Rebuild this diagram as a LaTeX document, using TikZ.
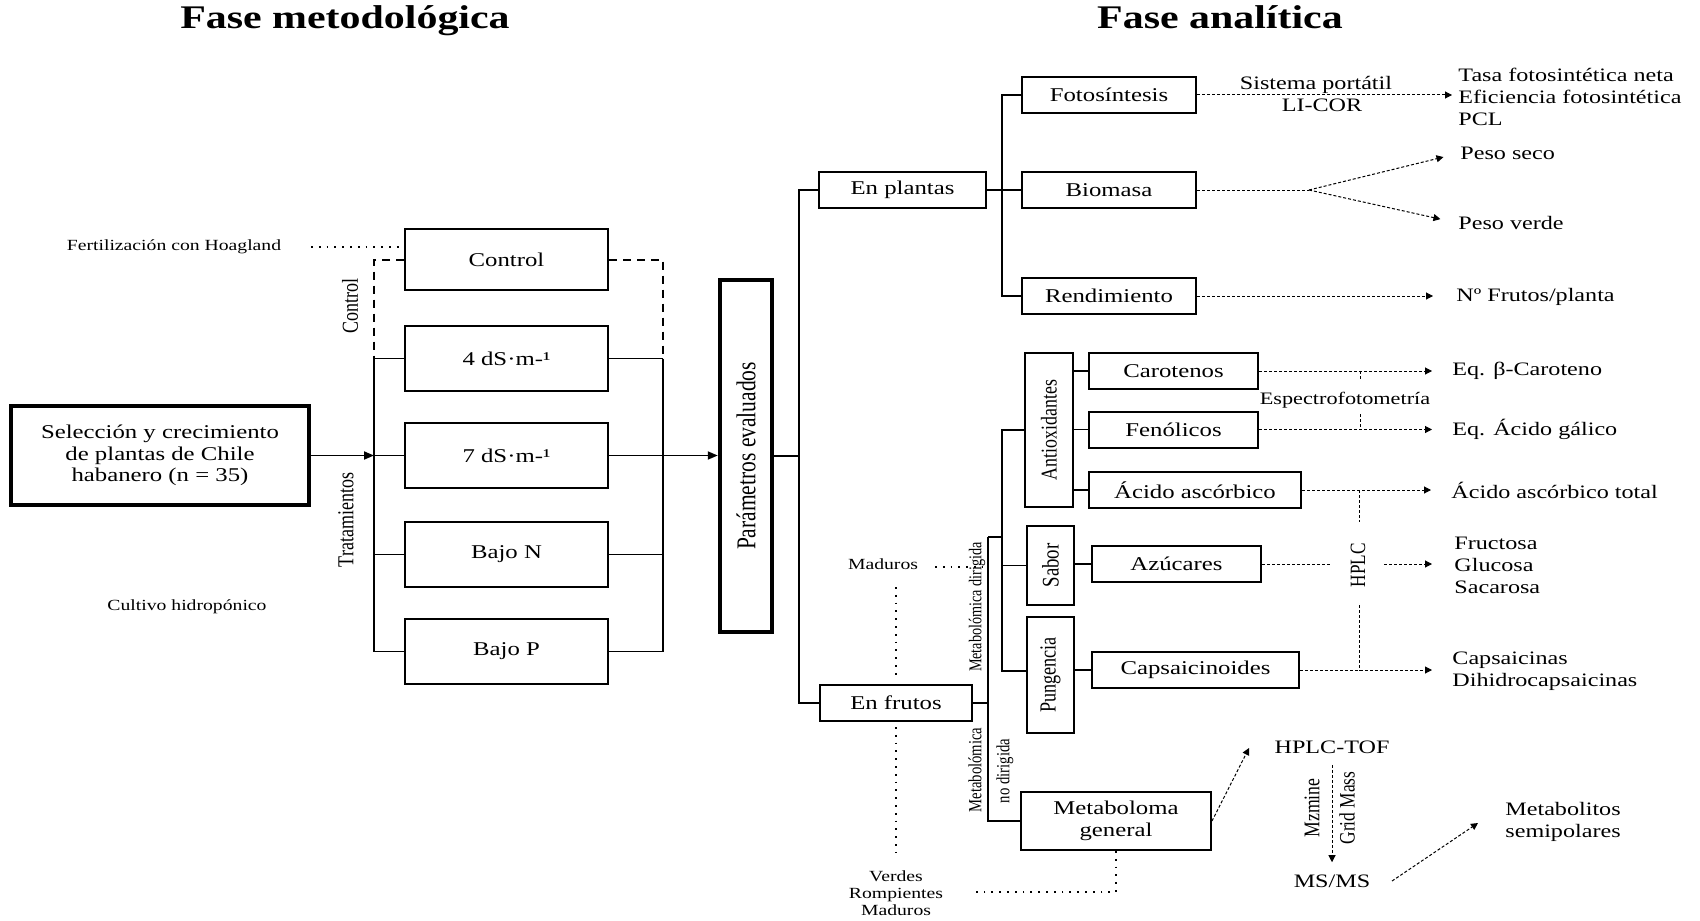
\documentclass[tikz,border=0pt]{standalone}
\usepackage{fontspec}
\setmainfont[FakeStretch=1.27]{Liberation Serif}
\newfontfamily\rotfont[FakeStretch=0.79]{Liberation Serif}
\usetikzlibrary{arrows.meta}
\begin{document}
\begin{tikzpicture}[x=0.5pt,y=-0.5pt,
  box/.style={draw, line width=1pt, inner sep=0pt, align=center, font=\fontsize{9.75}{10.75}\selectfont},
  tbox/.style={box, line width=2.25pt},
  tb/.style={box, minimum width=101.5pt, minimum height=32.5pt},
  rb/.style={box, minimum width=87pt, minimum height=18pt},
  ln/.style={line width=0.9pt},
  arr/.style={ln, -{Triangle[length=5pt,width=4pt]}},
  dsh/.style={line width=0.5pt, dash pattern=on 1.5pt off 1pt},
  darr/.style={dsh, -{Triangle[length=3.5pt,width=3.5pt]}},
  dotl/.style={line width=0.9pt, dash pattern=on 0.9pt off 3pt},
  ctl/.style={line width=1pt, dash pattern=on 4pt off 3pt},
  sm/.style={inner sep=0pt, align=center, font=\fontsize{7.75}{8.5}\selectfont},
  otx/.style={inner sep=0pt, align=left, font=\fontsize{9.5}{11}\selectfont},
  rot/.style={inner sep=0pt, rotate=90},
  ttl/.style={inner sep=0pt, anchor=base, font=\fontsize{16.5}{18}\selectfont\bfseries}
]
\fill[white] (0,0) rectangle (1700,920);
\useasboundingbox (0,0) rectangle (1700,920);

% titles
\node[ttl] (tit1) at (345,29) {Fase metodológica};
\node[ttl] (tit2) at (1220,29) {Fase analítica};

% ---------- left part ----------
\node[sm] (hoag) at (174,247) {Fertilización con Hoagland};
\node[sm] (cult) at (187,607) {Cultivo hidropónico};

\node[tbox, minimum width=149pt, minimum height=49.5pt] (sel) at (160,455.5)
  {Selección y crecimiento\\de plantas de Chile\\habanero (n = 35)};

\node[box, minimum width=101.5pt, minimum height=30.5pt] (ctrl) at (506.5,259.5) {Control};
\node[tb] (t4) at (506.5,358.5) {4 dS·m-¹};
\node[tb] (t7) at (506.5,455.5) {7 dS·m-¹};
\node[tb] (bn) at (506.5,554.5) {Bajo N};
\node[tb] (bp) at (506.5,651.5) {Bajo P};

\node[rot, font={\rotfont\fontsize{11.4}{12}\selectfont}] (lctl) at (350,306) {Control};
\node[rot, font={\rotfont\fontsize{11.4}{12}\selectfont}] (ltra) at (346,520) {Tratamientos};

\coordinate (lbt) at (374,358.5);
\coordinate (lbb) at (374,651.5);
\coordinate (rbt) at (663,358.5);
\coordinate (rbb) at (663,651.5);

\draw[dotl] (311,247) -- (ctrl.west |- 311,247);
\draw[ctl] (ctrl.west) -| (lbt);
\draw[ctl] (ctrl.east) -| (rbt);

\draw[ln] (lbt) -- (lbb);
\draw[ln] (lbt) -- (t4.west);
\draw[ln] (t7.west -| lbt) -- (t7.west);
\draw[ln] (bn.west -| lbt) -- (bn.west);
\draw[ln] (lbb) -- (bp.west);
\draw[arr] (sel.east) -- (sel.east -| lbt);

\draw[ln] (rbt) -- (rbb);
\draw[ln] (t4.east) -- (rbt);
\draw[ln] (bn.east) -- (bn.east -| rbt);
\draw[ln] (bp.east) -- (rbb);

% Parametros
\node[tbox, minimum width=26pt, minimum height=176pt] (par) at (746,456) {};
\node[rot, font={\rotfont\fontsize{13.6}{14}\selectfont}] (parl) at (par) {Parámetros evaluados};
\draw[arr] (t7.east) -- (t7.east -| par.west);

% ---------- right part ----------
\node[box, minimum width=83.5pt, minimum height=18pt] (enpl) at (902.5,190) {En plantas};
\node[box, minimum width=76pt, minimum height=18pt] (enfr) at (896,703) {En frutos};

\coordinate (mbt) at (799,190);
\coordinate (mbb) at (799,703);
\draw[ln] (enpl.west) -- (mbt) -- (mbb) -- (enfr.west);
\draw[ln] (par.east) -- (par.east -| mbt);

\node[rb] (foto) at (1109,95) {Fotosíntesis};
\node[rb] (bio) at (1109,190) {Biomasa};
\node[rb] (rend) at (1109,296) {Rendimiento};

\coordinate (pbt) at (1002,95);
\coordinate (pbb) at (1002,296);
\draw[ln] (foto.west) -- (pbt) -- (pbb) -- (rend.west);
\draw[ln] (enpl.east) -- (bio.west);

% outputs plants
\node[otx, anchor=west] (o1) at (1458,97) {Tasa fotosintética neta\\Eficiencia fotosintética\\PCL};
\draw[darr, shorten >=3pt] (foto.east) -- (foto.east -| o1.west);
\node[otx] (sist) at (1316,85) {Sistema portátil};
\node[otx] (licor) at (1322,105) {LI-COR};

\coordinate (bs) at (1309,190);
\node[otx, anchor=west] (ps) at (1460,153) {Peso seco};
\node[otx, anchor=west] (pv) at (1458,223) {Peso verde};
\draw[dsh] (bio.east) -- (bs);
\draw[darr, shorten >=8.5pt] (bs) -- (ps.west);
\draw[darr, shorten >=9pt] (bs) -- (pv.west);

\node[otx, anchor=west] (nf) at (1456,297) {Nº Frutos/planta};
\draw[darr, shorten >=11.5pt] (rend.east) -- (rend.east -| nf.west);

% fruit boxes
\node[box, minimum width=24pt, minimum height=77pt] (antiox) at (1049,430) {};
\node[rot, font={\rotfont\fontsize{11.3}{12}\selectfont}] (antl) at (antiox) {Antioxidantes};
\node[box, minimum width=23.5pt, minimum height=39.5pt] (sabor) at (1050.5,565.5) {};
\node[rot, font={\rotfont\fontsize{11.9}{12}\selectfont}] (sabl) at (sabor) {Sabor};
\node[box, minimum width=23.5pt, minimum height=58pt] (pung) at (1050.5,675) {};
\node[rot, font={\rotfont\fontsize{11.5}{12}\selectfont}] (pungl) at (pung) {Pungencia};

\node[box, minimum width=84.5pt, minimum height=18pt] (car) at (1173.5,371) {Carotenos};
\node[box, minimum width=84.5pt, minimum height=18pt] (fen) at (1173.5,429.5) {Fenólicos};
\node[box, minimum width=106pt, minimum height=18pt] (asc) at (1195,490) {Ácido ascórbico};
\node[box, minimum width=84.5pt, minimum height=18pt] (azu) at (1176.5,564) {Azúcares};
\node[box, minimum width=103.5pt, minimum height=18pt] (cap) at (1195.5,670) {Capsaicinoides};
\node[box, minimum width=95pt, minimum height=29pt] (meta) at (1116,821) {Metaboloma\\general};

\coordinate (fb1t) at (988,537);
\coordinate (fb1b) at (988,821);
\coordinate (fb2t) at (1002,430);
\coordinate (fb2b) at (1002,671);
\draw[ln] (fb1t) -- (fb1b) -- (meta.west);
\draw[ln] (enfr.east) -- (enfr.east -| fb1t);
\draw[ln] (fb1t) -- (fb1t -| fb2t);
\draw[ln] (antiox.west) -- (fb2t) -- (fb2b) -- (fb2b -| pung.west);
\draw[ln] (sabor.west -| fb2t) -- (sabor.west);
\draw[ln] (car.west -| antiox.east) -- (car.west);
\draw[ln] (fen.west -| antiox.east) -- (fen.west);
\draw[ln] (asc.west -| antiox.east) -- (asc.west);
\draw[ln] (azu.west -| sabor.east) -- (azu.west);
\draw[ln] (cap.west -| pung.east) -- (cap.west);

\node[rot, font={\rotfont\fontsize{9}{10}\selectfont}] (mdir) at (977,607) {Metabolómica dirigida};
\node[rot, font={\rotfont\fontsize{9.3}{10}\selectfont}] (mnd1) at (975,770) {Metabolómica};
\node[rot, font={\rotfont\fontsize{9.3}{10}\selectfont}] (mnd2) at (1005,771) {no dirigida};

% ripeness labels
\node[sm] (mad) at (883,564) {Maduros};
\node[sm] (vrm) at (896,893) {Verdes\\Rompientes\\Maduros};
\draw[dotl] (935,567) -- (983,567);
\draw[dotl] (896,587) -- (896,680);
\draw[dotl] (896,727) -- (896,853);
\draw[dotl] (meta.south) -- (1116,892) -- (974,892);

% analytic outputs
\node[otx, anchor=west] (eqb) at (1452,371) {Eq. β-Caroteno};
\node[otx, anchor=west] (eqa) at (1452,429) {Eq. Ácido gálico};
\node[otx, anchor=west] (ast) at (1451,490) {Ácido ascórbico total};
\node[otx, anchor=west] (azo) at (1454,565) {Fructosa\\Glucosa\\Sacarosa};
\node[otx, anchor=west] (cpo) at (1452,671) {Capsaicinas\\Dihidrocapsaicinas};

\draw[darr, shorten >=10pt] (car.east) -- (car.east -| eqb.west);
\draw[darr, shorten >=10pt] (fen.east) -- (fen.east -| eqa.west);
\draw[darr, shorten >=10pt] (asc.east) -- (asc.east -| ast.west);
\draw[darr, shorten >=10pt] (cap.east) -- (cap.east -| cpo.west);
\draw[dsh] (azu.east) -- (1331,564);
\draw[darr, shorten >=11pt] (1384,564) -- (azo.west |- 1384,564);

\node[inner sep=0pt, font=\fontsize{8.75}{9.5}\selectfont] (espec) at (1345,400) {Espectrofotometría};
\draw[dsh] (1360,371) -- (1360,380);
\draw[dsh] (1360,414) -- (1360,429);

\node[rot, font={\rotfont\fontsize{10.9}{12}\selectfont}] (hplc) at (1358,565) {HPLC};
\draw[dsh] (1359,490) -- (1359,522);
\draw[dsh] (1359,605) -- (1359,671);

% untargeted
\node[otx] (tof) at (1332,747) {HPLC-TOF};
\node[otx] (msms) at (1332,881) {MS/MS};
\node[otx, align=center] (msp) at (1563,822) {Metabolitos\\semipolares};
\node[rot, font={\rotfont\fontsize{11.2}{12}\selectfont}] (mzm) at (1312,808) {Mzmine};
\node[rot, font={\rotfont\fontsize{11}{12}\selectfont}] (gm) at (1347,808) {Grid Mass};
\coordinate (mtip) at (1249,748);
\draw[darr] (meta.east) -- (mtip);
\draw[darr, shorten <=5.5pt, shorten >=6pt] (tof) -- (msms);
\coordinate (ms1) at (1392,881);
\coordinate (ms2) at (1478,823);
\draw[darr] (ms1) -- (ms2);
\end{tikzpicture}
\end{document}
